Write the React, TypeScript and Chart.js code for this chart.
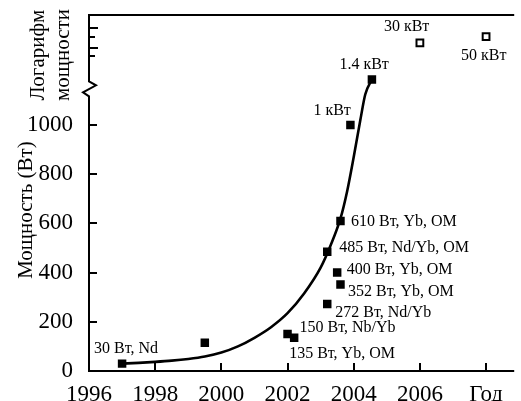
import React, { useEffect, useRef } from 'react';
import { Chart, registerables } from 'chart.js';

Chart.register(...registerables);

// ---- data ----
const xTickValues = [1996, 1998, 2000, 2002, 2004, 2006, 2008];
const xTickLabels = ['1996', '1998', '2000', '2002', '2004', '2006', 'Год'];
const yTickValues = [0, 200, 400, 600, 800, 1000];
const logTickPowers = [10000, 20000, 50000, 100000];
const logTickMajor = [false, true, false, true];

const pointYears = [1997.0, 1999.5, 2002.0, 2002.2, 2003.2, 2003.5, 2003.6, 2003.2, 2003.6, 2003.9, 2004.55];
const pointPowers = [30, 115, 150, 135, 272, 400, 352, 485, 610, 1000, 1400];
const pointLabels = [
  '30 Вт, Nd', '', '150 Вт, Nb/Yb', '135 Вт, Yb, OM', '272 Вт, Nd/Yb',
  '400 Вт, Yb, OM', '352 Вт, Yb, OM', '485 Вт, Nd/Yb, OM', '610 Вт, Yb, OM',
  '1 кВт', '1.4 кВт',
];

const futureYears = [2006.0, 2008.0];
const futurePowers = [30000, 50000];
const futureLabels = ['30 кВт', '50 кВт'];

const trendYears = [
  1997.0, 1997.5, 1998.0, 1998.5, 1999.0, 1999.5, 2000.0, 2000.5, 2001.0, 2001.5,
  2002.0, 2002.5, 2003.0, 2003.3, 2003.6, 2003.8, 2004.0, 2004.2, 2004.35, 2004.55,
];
const trendPowers = [
  30, 33, 37, 42, 49, 59, 75, 100, 135, 178,
  235, 315, 420, 510, 620, 730, 870, 1020, 1125, 1400,
];

// ---- layout / style (not data) ----
const pointLabelOffsets: [number, number][] = [
  [-28, -15], [0, 0], [12, -6.5], [-5, 16], [8, 8.5],
  [9.5, -3], [7.5, 7], [12, -3.5], [10.5, 1], [-37, -14], [-32.5, -14.5],
];
const futureLabelOffsets: [number, number][] = [[-36, -15.5], [-25, 19.5]];

// axis transform: linear part up to the break, logarithmic part above it
const LINEAR_LIMIT = 1150;
const LOG_ANCHOR_W = 1400;
const LOG_ANCHOR_AXIS = 1185;
const LOG_UNITS_PER_DECADE = 112;
const BREAK_AXIS = 1145;
const toAxis = (w: number) =>
  w <= LINEAR_LIMIT ? w : LOG_ANCHOR_AXIS + LOG_UNITS_PER_DECADE * Math.log10(w / LOG_ANCHOR_W);

const SERIF = '"Liberation Serif", "Times New Roman", serif';

const overlayPlugin = {
  id: 'overlay',
  beforeDatasetsDraw(chart: any) {
    const { ctx, chartArea: a, scales } = chart;
    const x = scales.x;
    const y = scales.y;
    ctx.save();
    ctx.strokeStyle = '#000';
    ctx.lineWidth = 2;
    // top frame line
    ctx.beginPath();
    ctx.moveTo(a.left - 1, a.top);
    ctx.lineTo(a.right, a.top);
    ctx.stroke();
    // x axis line
    ctx.beginPath();
    ctx.moveTo(a.left - 1, a.bottom);
    ctx.lineTo(a.right, a.bottom);
    ctx.stroke();
    // y axis line with break zigzag
    const yb = y.getPixelForValue(BREAK_AXIS);
    ctx.beginPath();
    ctx.moveTo(a.left, a.top);
    ctx.lineTo(a.left, yb - 8);
    ctx.lineTo(a.left + 7, yb - 4);
    ctx.lineTo(a.left - 6, yb + 3);
    ctx.lineTo(a.left, yb + 7);
    ctx.lineTo(a.left, a.bottom);
    ctx.stroke();
    // y ticks (inward)
    yTickValues.forEach((v) => {
      if (v === 0) return;
      const py = Math.round(y.getPixelForValue(v));
      ctx.beginPath();
      ctx.moveTo(a.left, py);
      ctx.lineTo(a.left + 8, py);
      ctx.stroke();
    });
    logTickPowers.forEach((w, i) => {
      const py = Math.round(y.getPixelForValue(toAxis(w)));
      ctx.beginPath();
      ctx.moveTo(a.left, py);
      ctx.lineTo(a.left + (logTickMajor[i] ? 9 : 6), py);
      ctx.stroke();
    });
    // x ticks (inward)
    xTickValues.forEach((v) => {
      if (v === 1996) return;
      const px = Math.round(x.getPixelForValue(v));
      ctx.beginPath();
      ctx.moveTo(px, a.bottom);
      ctx.lineTo(px, a.bottom - 8);
      ctx.stroke();
    });
    // axis titles
    ctx.fillStyle = '#000';
    ctx.textAlign = 'center';
    ctx.textBaseline = 'middle';
    ctx.font = `21px ${SERIF}`;
    const drawRot = (text: string, cx: number, cy: number) => {
      ctx.save();
      ctx.translate(cx, cy);
      ctx.rotate(-Math.PI / 2);
      ctx.fillText(text, 0, 0);
      ctx.restore();
    };
    drawRot('Мощность (Вт)', 26, 210);
    drawRot('Логарифм', 38, 55);
    drawRot('мощности', 63, 55);
    ctx.restore();
  },
  afterDatasetsDraw(chart: any) {
    const { ctx } = chart;
    ctx.save();
    ctx.fillStyle = '#000';
    ctx.font = `16px ${SERIF}`;
    ctx.textAlign = 'left';
    ctx.textBaseline = 'middle';
    const m1 = chart.getDatasetMeta(1);
    m1.data.forEach((el: any, i: number) => {
      if (!pointLabels[i]) return;
      const [dx, dy] = pointLabelOffsets[i];
      ctx.fillText(pointLabels[i], el.x + dx, el.y + dy);
    });
    const m2 = chart.getDatasetMeta(2);
    m2.data.forEach((el: any, i: number) => {
      const [dx, dy] = futureLabelOffsets[i];
      ctx.fillText(futureLabels[i], el.x + dx, el.y + dy);
    });
    ctx.restore();
  },
};

export default function App() {
  const ref = useRef<HTMLCanvasElement | null>(null);
  useEffect(() => {
    if (!ref.current) return;
    const chart = new Chart(ref.current, {
      type: 'scatter',
      data: {
        datasets: [
          {
            type: 'line',
            data: trendYears.map((yr, i) => ({ x: yr, y: toAxis(trendPowers[i]) })),
            borderColor: '#000',
            borderWidth: 2.6,
            pointRadius: 0,
            fill: false,
            cubicInterpolationMode: 'monotone',
            order: 2,
          } as any,
          {
            data: pointYears.map((yr, i) => ({ x: yr, y: toAxis(pointPowers[i]) })),
            pointStyle: 'rect',
            pointRadius: 6,
            backgroundColor: '#000',
            borderColor: '#000',
            borderWidth: 0,
            order: 1,
          },
          {
            data: futureYears.map((yr, i) => ({ x: yr, y: toAxis(futurePowers[i]) })),
            pointStyle: 'rect',
            pointRadius: 4.8,
            backgroundColor: '#fff',
            borderColor: '#000',
            borderWidth: 2,
            order: 1,
          },
        ],
      },
      options: {
        animation: false,
        responsive: true,
        maintainAspectRatio: false,
        layout: { padding: { top: 15, right: 0, left: 0, bottom: 0 } },
        plugins: { legend: { display: false }, tooltip: { enabled: false } },
        scales: {
          x: {
            type: 'linear',
            min: 1996,
            max: 2008.85,
            grid: { display: false },
            border: { display: false },
            afterBuildTicks: (s: any) => {
              s.ticks = xTickValues.map((v) => ({ value: v }));
            },
            afterFit: (s: any) => {
              s.height = 30;
              s.paddingLeft = 0;
              s.paddingRight = 0;
            },
            ticks: {
              autoSkip: false,
              maxRotation: 0,
              padding: 2,
              color: '#000',
              font: { family: SERIF, size: 23 },
              callback: (v: any) => {
                const i = xTickValues.indexOf(Number(v));
                return i >= 0 ? xTickLabels[i] : '';
              },
            },
          },
          y: {
            type: 'linear',
            min: 0,
            max: 1447,
            grid: { display: false },
            border: { display: false },
            afterBuildTicks: (s: any) => {
              s.ticks = yTickValues.map((v) => ({ value: v }));
            },
            afterFit: (s: any) => {
              s.width = 89;
              s.paddingTop = 0;
              s.paddingBottom = 0;
            },
            ticks: {
              autoSkip: false,
              padding: 8,
              color: '#000',
              font: { family: SERIF, size: 23 },
              callback: (v: any) => String(v),
            },
          },
        },
      },
      plugins: [overlayPlugin],
    });
    return () => chart.destroy();
  }, []);
  return (
    <div style={{ position: 'fixed', left: 0, top: 0, width: 521, height: 401, background: '#fff' }}>
      <canvas ref={ref} />
    </div>
  );
}
